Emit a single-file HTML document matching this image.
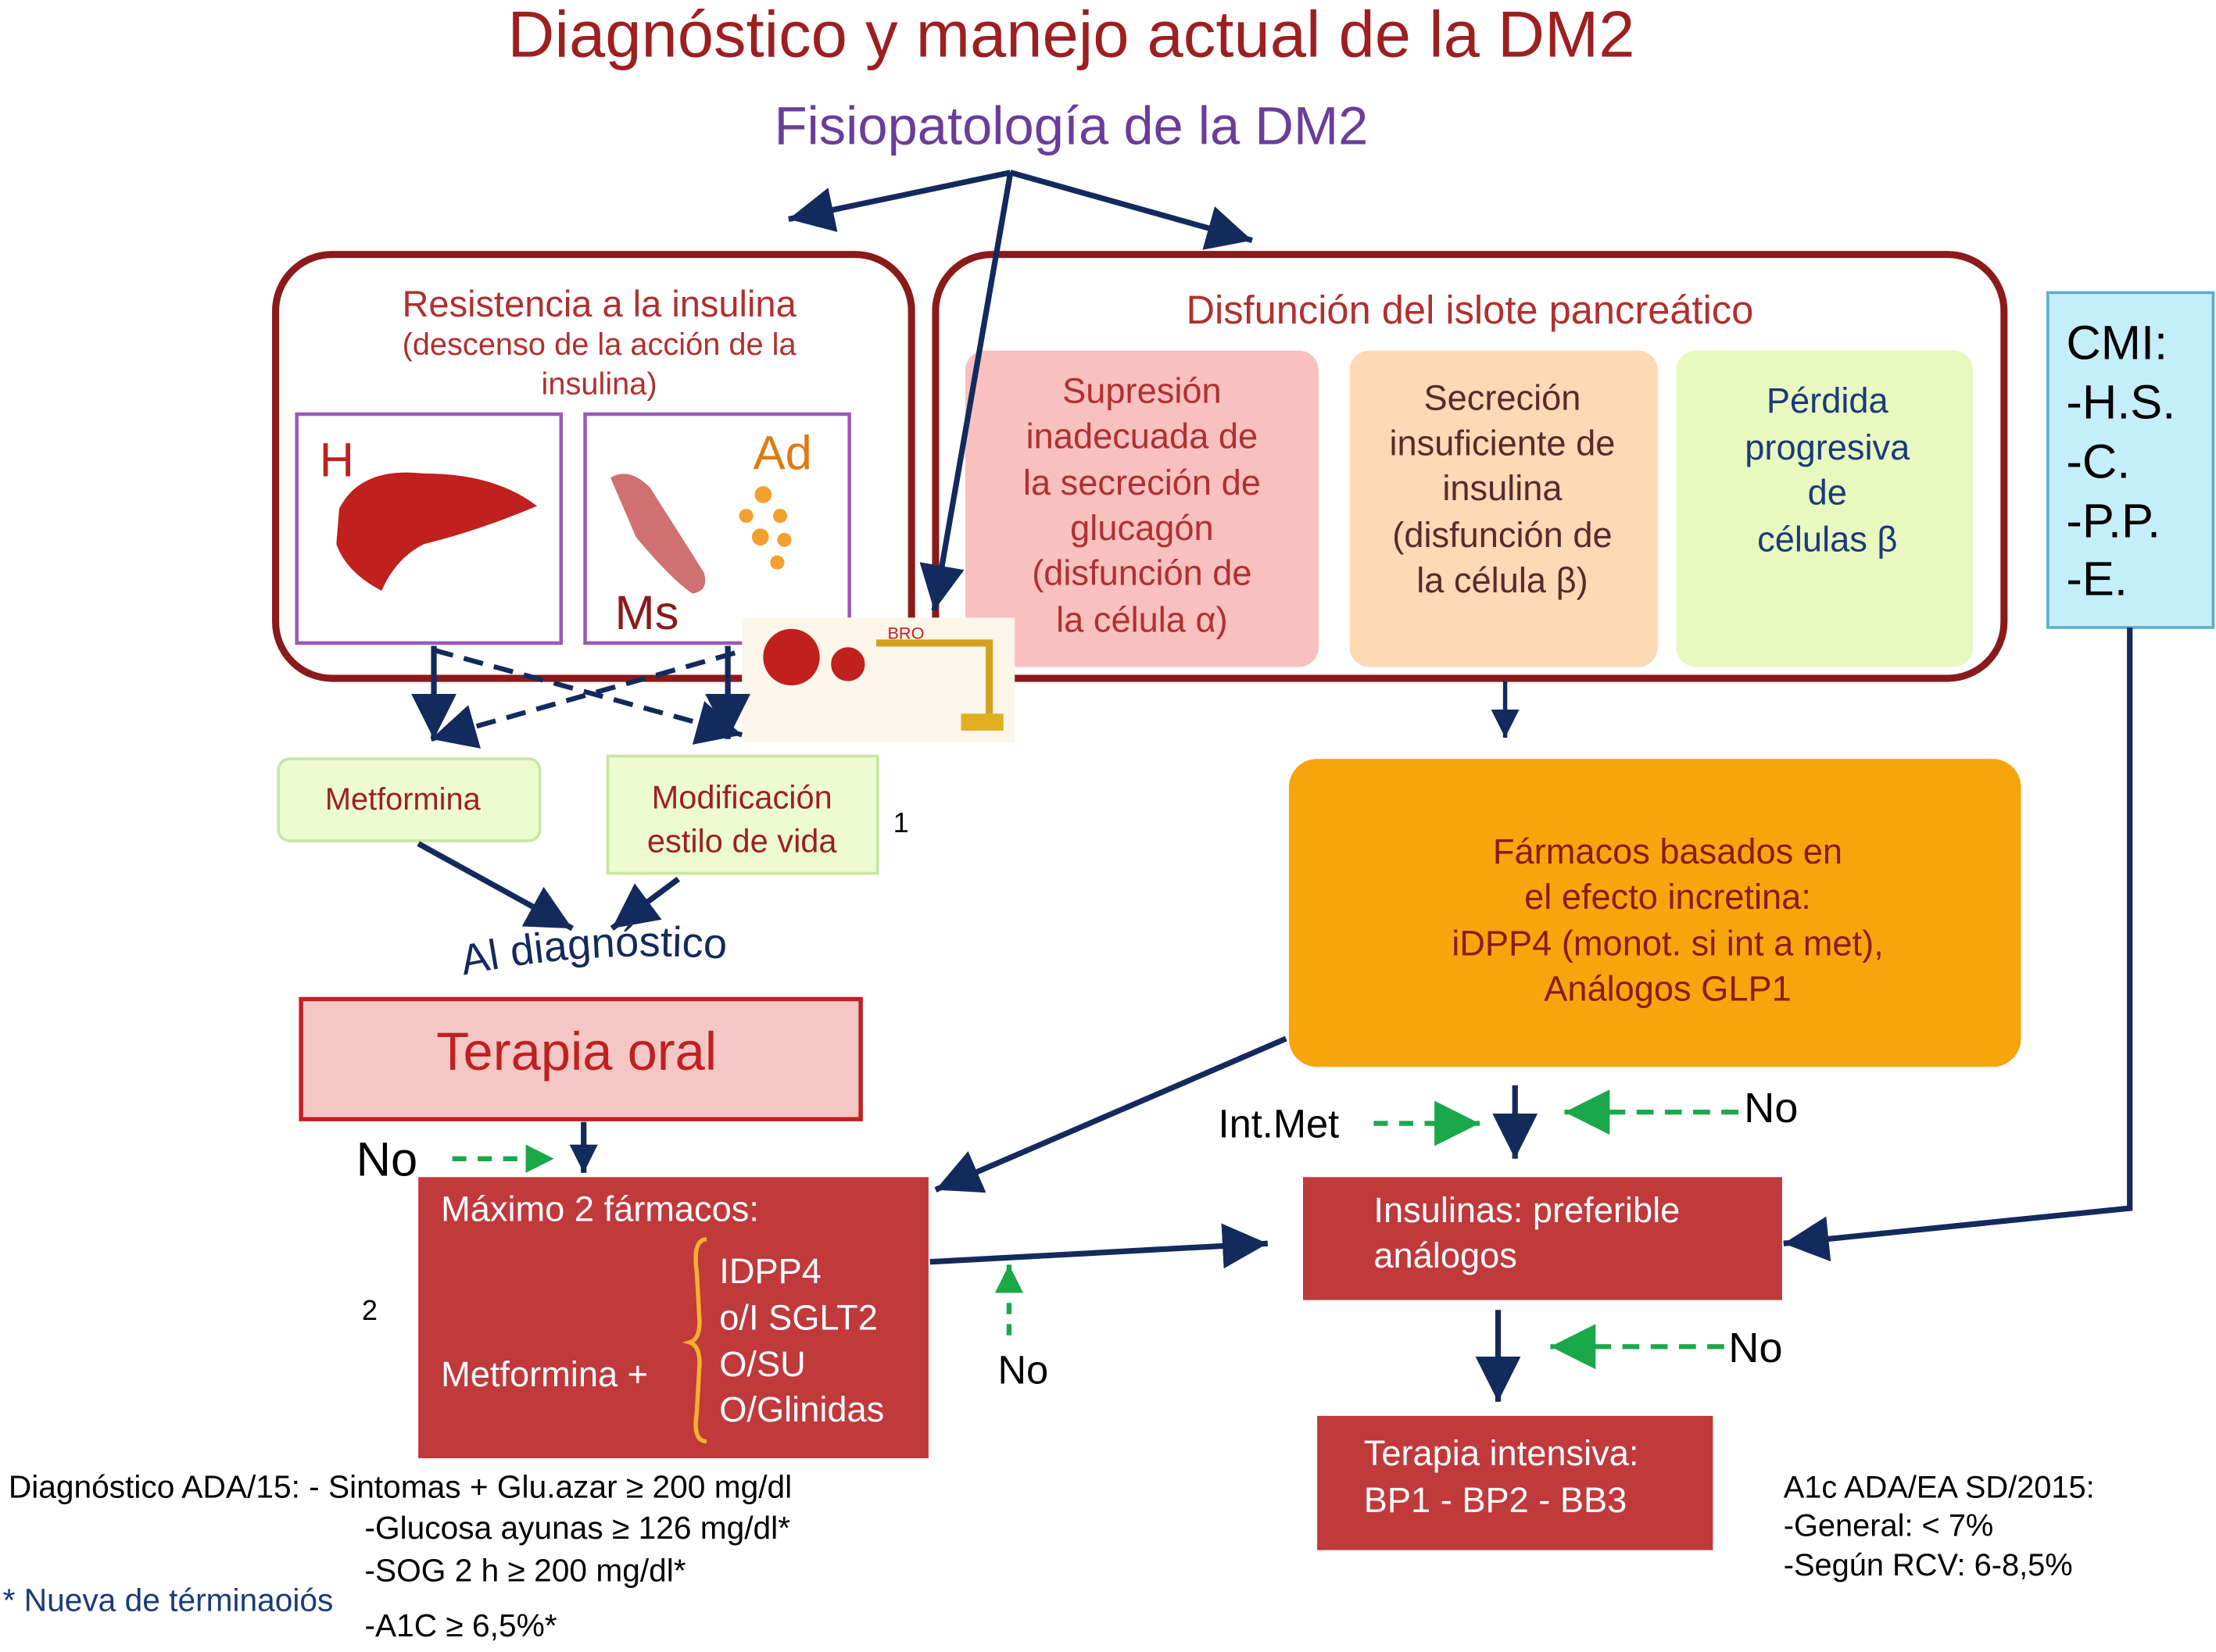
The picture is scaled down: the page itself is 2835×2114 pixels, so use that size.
<!DOCTYPE html>
<html><head><meta charset="utf-8"><style>
html,body{margin:0;padding:0;background:#fff;}
svg{display:block;}
text{font-family:"Liberation Sans",sans-serif;}
</style></head><body>
<svg width="2835" height="2114" viewBox="0 0 1568 1169" xmlns="http://www.w3.org/2000/svg">
<defs>
<marker id="big" viewBox="0 0 10 10" refX="10" refY="5" markerWidth="32" markerHeight="32" orient="auto" markerUnits="userSpaceOnUse"><path d="M0,0 L10,5 L0,10 z" fill="#132a5c"/></marker>
<marker id="sm" viewBox="0 0 10 10" refX="10" refY="5" markerWidth="20" markerHeight="20" orient="auto" markerUnits="userSpaceOnUse"><path d="M0,0 L10,5 L0,10 z" fill="#132a5c"/></marker>
<marker id="gr" viewBox="0 0 10 10" refX="10" refY="5" markerWidth="32" markerHeight="32" orient="auto" markerUnits="userSpaceOnUse"><path d="M0,0 L10,5 L0,10 z" fill="#1aa84a"/></marker>
<marker id="grs" viewBox="0 0 10 10" refX="10" refY="5" markerWidth="20" markerHeight="20" orient="auto" markerUnits="userSpaceOnUse"><path d="M0,0 L10,5 L0,10 z" fill="#1aa84a"/></marker>
<path id="curve" d="M328,690 Q435,668 548,682"/>
</defs>

<text x="758" y="40" font-size="46" fill="#9e1f1f" text-anchor="middle">Diagnóstico y manejo actual de la DM2</text>
<text x="758" y="102" font-size="38" fill="#6a3d9a" text-anchor="middle">Fisiopatología de la DM2</text>

<line x1="715" y1="122" x2="558" y2="155" stroke="#132a5c" stroke-width="4" marker-end="url(#big)"/>
<line x1="715" y1="122" x2="886" y2="170" stroke="#132a5c" stroke-width="4" marker-end="url(#big)"/>

<rect x="195" y="180" width="450" height="300" rx="40" fill="none" stroke="#8b1a1a" stroke-width="5"/>
<text x="424" y="224" font-size="26" fill="#b03030" text-anchor="middle">Resistencia a la insulina</text>
<text x="424" y="251" font-size="22" fill="#b03030" text-anchor="middle">(descenso de la acción de la</text>
<text x="424" y="279" font-size="22" fill="#b03030" text-anchor="middle">insulina)</text>
<rect x="210" y="293" width="187" height="162" fill="#fff" stroke="#9b59b6" stroke-width="2.5"/>
<rect x="414" y="293" width="187" height="162" fill="#fff" stroke="#9b59b6" stroke-width="2.5"/>
<text x="226" y="337" font-size="34" fill="#c0201e">H</text>
<text x="533" y="332" font-size="34" fill="#e07a10">Ad</text>
<text x="435" y="445" font-size="34" fill="#8b1a1a">Ms</text>
<path d="M240,360 Q255,330 300,335 Q350,335 380,358 Q340,375 300,385 Q280,395 270,418 Q245,405 238,385 Z" fill="#c0201e"/>
<path d="M432,338 Q445,330 460,345 L498,405 Q502,418 490,420 Q475,410 450,380 Z" fill="#d07070"/>
<g fill="#f4a030"><circle cx="540" cy="350" r="6"/><circle cx="528" cy="365" r="5"/><circle cx="552" cy="365" r="5"/><circle cx="538" cy="380" r="6"/><circle cx="555" cy="382" r="5"/><circle cx="550" cy="398" r="5"/></g>

<rect x="662" y="180" width="756" height="300" rx="40" fill="none" stroke="#8b1a1a" stroke-width="5"/>
<text x="1040" y="229" font-size="28" fill="#b03030" text-anchor="middle">Disfunción del islote pancreático</text>
<rect x="683" y="248" width="250" height="224" rx="14" fill="#f9c0c0"/>
<rect x="955" y="248" width="218" height="224" rx="14" fill="#fdd9b5"/>
<rect x="1186" y="248" width="210" height="224" rx="14" fill="#e8f9c0"/>
<g font-size="25" fill="#b03030" text-anchor="middle">
<text x="808" y="285">Supresión</text><text x="808" y="317">inadecuada de</text><text x="808" y="350">la secreción de</text><text x="808" y="382">glucagón</text><text x="808" y="414">(disfunción de</text><text x="808" y="447">la célula α)</text>
</g>
<g font-size="25" fill="#5a2a2a" text-anchor="middle">
<text x="1063" y="290">Secreción</text><text x="1063" y="322">insuficiente de</text><text x="1063" y="354">insulina</text><text x="1063" y="387">(disfunción de</text><text x="1063" y="419">la célula β)</text>
</g>
<g font-size="25" fill="#1a3a7a" text-anchor="middle">
<text x="1293" y="292">Pérdida</text><text x="1293" y="325">progresiva</text><text x="1293" y="357">de</text><text x="1293" y="390">células β</text>
</g>

<rect x="525" y="437" width="193" height="88" fill="#fbf5ea"/>
<circle cx="560" cy="465" r="20" fill="#c0201e"/><circle cx="600" cy="470" r="12" fill="#c0201e"/>
<path d="M620,455 L700,455 L700,510" stroke="#d4a020" stroke-width="5" fill="none"/>
<rect x="680" y="505" width="30" height="12" fill="#e0b020"/>
<text x="628" y="452" font-size="12" fill="#c0201e">BRO</text>

<line x1="715" y1="122" x2="661" y2="432" stroke="#132a5c" stroke-width="4" marker-end="url(#big)"/>

<rect x="1449" y="207" width="117" height="237" fill="#c5eefb" stroke="#5aaecc" stroke-width="2"/>
<g font-size="34" fill="#000"><text x="1462" y="254">CMI:</text><text x="1462" y="296">-H.S.</text><text x="1462" y="338">-C.</text><text x="1462" y="380">-P.P.</text><text x="1462" y="421">-E.</text></g>

<line x1="307" y1="457" x2="307" y2="523" stroke="#132a5c" stroke-width="4" marker-end="url(#big)"/>
<line x1="515" y1="457" x2="515" y2="523" stroke="#132a5c" stroke-width="4" marker-end="url(#big)"/>
<line x1="307" y1="460" x2="525" y2="520" stroke="#132a5c" stroke-width="3.5" stroke-dasharray="14,8" marker-end="url(#big)"/>
<line x1="520" y1="462" x2="305" y2="523" stroke="#132a5c" stroke-width="3.5" stroke-dasharray="14,8" marker-end="url(#big)"/>

<rect x="197" y="537" width="185" height="58" rx="8" fill="#ecfbd0" stroke="#c8e6a0" stroke-width="2"/>
<text x="285" y="573" font-size="22" fill="#9e1f1f" text-anchor="middle">Metformina</text>
<rect x="430" y="535" width="191" height="83" fill="#ecfbd0" stroke="#c8e6a0" stroke-width="2"/>
<text x="525" y="572" font-size="23" fill="#9e1f1f" text-anchor="middle">Modificación</text>
<text x="525" y="603" font-size="23" fill="#9e1f1f" text-anchor="middle">estilo de vida</text>
<text x="632" y="589" font-size="20" fill="#000">1</text>

<line x1="296" y1="597" x2="405" y2="657" stroke="#132a5c" stroke-width="4" marker-end="url(#big)"/>
<line x1="480" y1="622" x2="433" y2="657" stroke="#132a5c" stroke-width="4" marker-end="url(#big)"/>

<text font-size="30" fill="#132a5c"><textPath href="#curve">Al diagnóstico</textPath></text>

<rect x="213" y="707" width="396" height="85" fill="#f5c6c6" stroke="#c0201e" stroke-width="3"/>
<text x="408" y="757" font-size="38" fill="#c0201e" text-anchor="middle">Terapia oral</text>

<text x="252" y="832" font-size="34" fill="#000">No</text>
<line x1="320" y1="820" x2="392" y2="820" stroke="#1aa84a" stroke-width="3.5" stroke-dasharray="10,8" marker-end="url(#grs)"/>
<line x1="413" y1="794" x2="413" y2="830" stroke="#132a5c" stroke-width="4" marker-end="url(#sm)"/>

<rect x="296" y="833" width="361" height="199" fill="#c0393b"/>
<text x="312" y="864" font-size="25" fill="#fff">Máximo 2 fármacos:</text>
<text x="312" y="981" font-size="25" fill="#fff">Metformina +</text>
<path d="M500,877 Q490,877 493,900 L495,935 Q495,948 488,950 Q495,952 495,965 L493,1000 Q490,1020 500,1020" stroke="#f4b030" stroke-width="3" fill="none"/>
<g font-size="25" fill="#fff"><text x="509" y="908">IDPP4</text><text x="509" y="941">o/I SGLT2</text><text x="509" y="974">O/SU</text><text x="509" y="1006">O/Glinidas</text></g>
<text x="256" y="934" font-size="20" fill="#000">2</text>

<line x1="1065" y1="482" x2="1065" y2="522" stroke="#132a5c" stroke-width="3" marker-end="url(#sm)"/>
<rect x="912" y="537" width="518" height="218" rx="20" fill="#f7a50c"/>
<g font-size="25" fill="#8b1a1a" text-anchor="middle"><text x="1180" y="611">Fármacos basados en</text><text x="1180" y="643">el efecto incretina:</text><text x="1180" y="676">iDPP4 (monot. si int a met),</text><text x="1180" y="708">Análogos GLP1</text></g>

<line x1="910" y1="735" x2="662" y2="842" stroke="#132a5c" stroke-width="4" marker-end="url(#big)"/>

<text x="862" y="805" font-size="28" fill="#000">Int.Met</text>
<line x1="972" y1="795" x2="1047" y2="795" stroke="#1aa84a" stroke-width="3.5" stroke-dasharray="10,8" marker-end="url(#gr)"/>
<line x1="1072" y1="768" x2="1072" y2="820" stroke="#132a5c" stroke-width="4" marker-end="url(#big)"/>
<line x1="1230" y1="787" x2="1107" y2="787" stroke="#1aa84a" stroke-width="3.5" stroke-dasharray="12,8" marker-end="url(#gr)"/>
<text x="1234" y="794" font-size="30" fill="#000">No</text>

<rect x="922" y="833" width="339" height="87" fill="#c0393b"/>
<text x="972" y="865" font-size="25" fill="#fff">Insulinas: preferible</text>
<text x="972" y="897" font-size="25" fill="#fff">análogos</text>

<line x1="658" y1="893" x2="897" y2="880" stroke="#132a5c" stroke-width="4" marker-end="url(#big)"/>
<line x1="714" y1="945" x2="714" y2="895" stroke="#1aa84a" stroke-width="3.5" stroke-dasharray="8,7" marker-end="url(#grs)"/>
<text x="706" y="979" font-size="28" fill="#000">No</text>

<polyline points="1507,444 1507,855 1262,880" fill="none" stroke="#132a5c" stroke-width="4" marker-end="url(#big)"/>

<line x1="1060" y1="927" x2="1060" y2="992" stroke="#132a5c" stroke-width="4" marker-end="url(#big)"/>
<line x1="1220" y1="953" x2="1097" y2="953" stroke="#1aa84a" stroke-width="3.5" stroke-dasharray="12,8" marker-end="url(#gr)"/>
<text x="1223" y="964" font-size="30" fill="#000">No</text>

<rect x="932" y="1002" width="280" height="95" fill="#c0393b"/>
<text x="965" y="1037" font-size="25" fill="#fff">Terapia intensiva:</text>
<text x="965" y="1070" font-size="25" fill="#fff">BP1 - BP2 - BB3</text>

<g font-size="22.5" fill="#000">
<text x="6" y="1060">Diagnóstico ADA/15: - Sintomas + Glu.azar ≥ 200 mg/dl</text>
<text x="258" y="1089">-Glucosa ayunas ≥ 126 mg/dl*</text>
<text x="258" y="1119">-SOG 2 h ≥ 200 mg/dl*</text>
<text x="258" y="1158">-A1C ≥ 6,5%*</text>
</g>
<g font-size="22" fill="#000">
<text x="1262" y="1060">A1c ADA/EA SD/2015:</text>
<text x="1262" y="1087">-General: &lt; 7%</text>
<text x="1262" y="1115">-Según RCV: 6-8,5%</text>
</g>
<text x="2" y="1140" font-size="22.5" fill="#1a3a7a">* Nueva de términaoiós</text>
</svg>
</body></html>
